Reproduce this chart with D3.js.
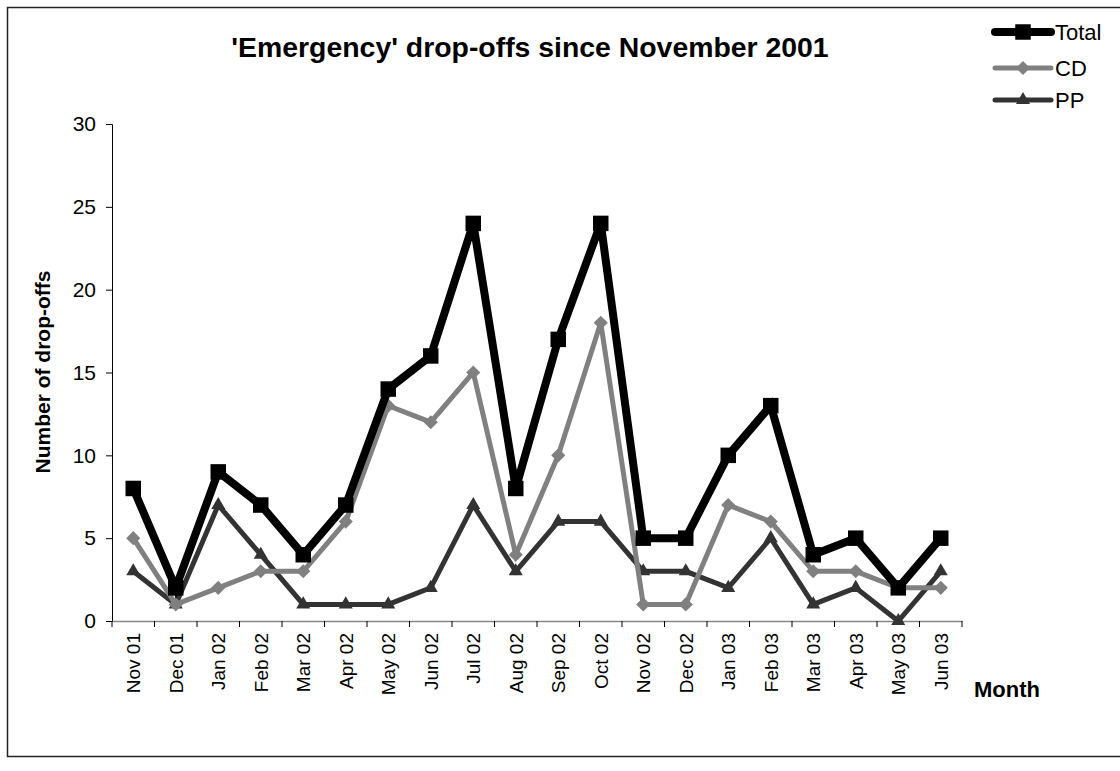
<!DOCTYPE html>
<html><head><meta charset="utf-8">
<script src="https://cdn.jsdelivr.net/npm/d3@7"></script>
<style>body{margin:0;background:#fff}svg{display:block;font-family:"Liberation Sans",Arial,sans-serif}</style>
</head><body>
<svg id="c" width="1120" height="771"></svg>
<script>
const months = ["Nov 01","Dec 01","Jan 02","Feb 02","Mar 02","Apr 02","May 02","Jun 02","Jul 02","Aug 02","Sep 02","Oct 02","Nov 02","Dec 02","Jan 03","Feb 03","Mar 03","Apr 03","May 03","Jun 03"];
const totalVals = [8,2,9,7,4,7,14,16,24,8,17,24,5,5,10,13,4,5,2,5];
const cdVals    = [5,1,2,3,3,6,13,12,15,4,10,18,1,1,7,6,3,3,2,2];
const ppVals    = [3,1,7,4,1,1,1,2,7,3,6,6,3,3,2,5,1,2,0,3];
const yTicks = [0,5,10,15,20,25,30];

const svg = d3.select("#c");
const L=112,R=962,T=124,B=621;
svg.append("rect").attr("x",7.5).attr("y",7.5).attr("width",1130).attr("height",749).attr("fill","none").attr("stroke","#222").attr("stroke-width",1.5);

const x = d3.scaleBand().domain(months).range([L,R]);
const y = d3.scaleLinear().domain([0,30]).range([B,T]);

const yAxis = svg.append("g").attr("transform",`translate(${L},0)`).call(d3.axisLeft(y).tickValues(yTicks).tickSize(6).tickPadding(10));
yAxis.select(".domain").attr("stroke","#000");
yAxis.selectAll("text").attr("font-size",21).attr("fill","#000");
const xAxis = svg.append("g").attr("transform",`translate(0,${B})`).call(d3.axisBottom(x).tickSize(0).tickFormat(""));
xAxis.select(".domain").attr("stroke","#888").attr("stroke-width",1.5);
const bounds = months.map(m=>x(m)).concat([R]);
svg.append("g").selectAll("line").data(bounds).join("line")
  .attr("x1",d=>d).attr("x2",d=>d).attr("y1",B).attr("y2",B+6).attr("stroke","#000");
svg.append("g").selectAll("text").data(months).join("text")
  .attr("transform",d=>`translate(${x(d)+x.bandwidth()/2+7},${B+12}) rotate(-90)`)
  .attr("text-anchor","end").attr("font-size",19).text(d=>d);

const diamond = {draw(ctx,size){const r=Math.sqrt(size)/Math.SQRT2*1.0;ctx.moveTo(0,-r);ctx.lineTo(r,0);ctx.lineTo(0,r);ctx.lineTo(-r,0);ctx.closePath();}};
const line = d3.line().x((d,i)=>x(months[i])+x.bandwidth()/2).y(d=>y(d));
const series = [
  {name:"PP", vals:ppVals, color:"#333333", w:5, sym:d3.symbolTriangle, size:85},
  {name:"CD", vals:cdVals, color:"#808080", w:5, sym:diamond, size:100},
  {name:"Total", vals:totalVals, color:"#000000", w:8, sym:d3.symbolSquare, size:240}
];
series.forEach(s=>{
  svg.append("path").datum(s.vals).attr("d",line).attr("fill","none").attr("stroke",s.color).attr("stroke-width",s.w).attr("stroke-linejoin","miter");
  svg.append("g").selectAll("path").data(s.vals).join("path")
    .attr("transform",(d,i)=>`translate(${x(months[i])+x.bandwidth()/2},${y(d)})`)
    .attr("d",d3.symbol().type(s.sym).size(s.size)).attr("fill",s.color);
});

svg.append("text").attr("x",530).attr("y",57).attr("text-anchor","middle").attr("font-size",28.4).attr("font-weight","bold").text("'Emergency' drop-offs since November 2001");
svg.append("text").attr("transform","translate(50,372) rotate(-90)").attr("text-anchor","middle").attr("font-size",21).attr("font-weight","bold").text("Number of drop-offs");
svg.append("text").attr("x",974).attr("y",697).attr("font-size",22).attr("font-weight","bold").text("Month");

const leg = [
  {name:"Total", color:"#000", w:8, sym:d3.symbolSquare, size:240, y:32},
  {name:"CD", color:"#808080", w:5, sym:diamond, size:100, y:68},
  {name:"PP", color:"#333", w:5, sym:d3.symbolTriangle, size:85, y:100}
];
leg.forEach(l=>{
  svg.append("line").attr("x1",995).attr("x2",1051).attr("y1",l.y).attr("y2",l.y).attr("stroke",l.color).attr("stroke-width",l.w).attr("stroke-linecap","round");
  svg.append("path").attr("transform",`translate(1023,${l.y})`).attr("d",d3.symbol().type(l.sym).size(l.size)).attr("fill",l.color);
  svg.append("text").attr("x",1055).attr("y",l.y+8).attr("font-size",22).text(l.name);
});
</script>
</body></html>
